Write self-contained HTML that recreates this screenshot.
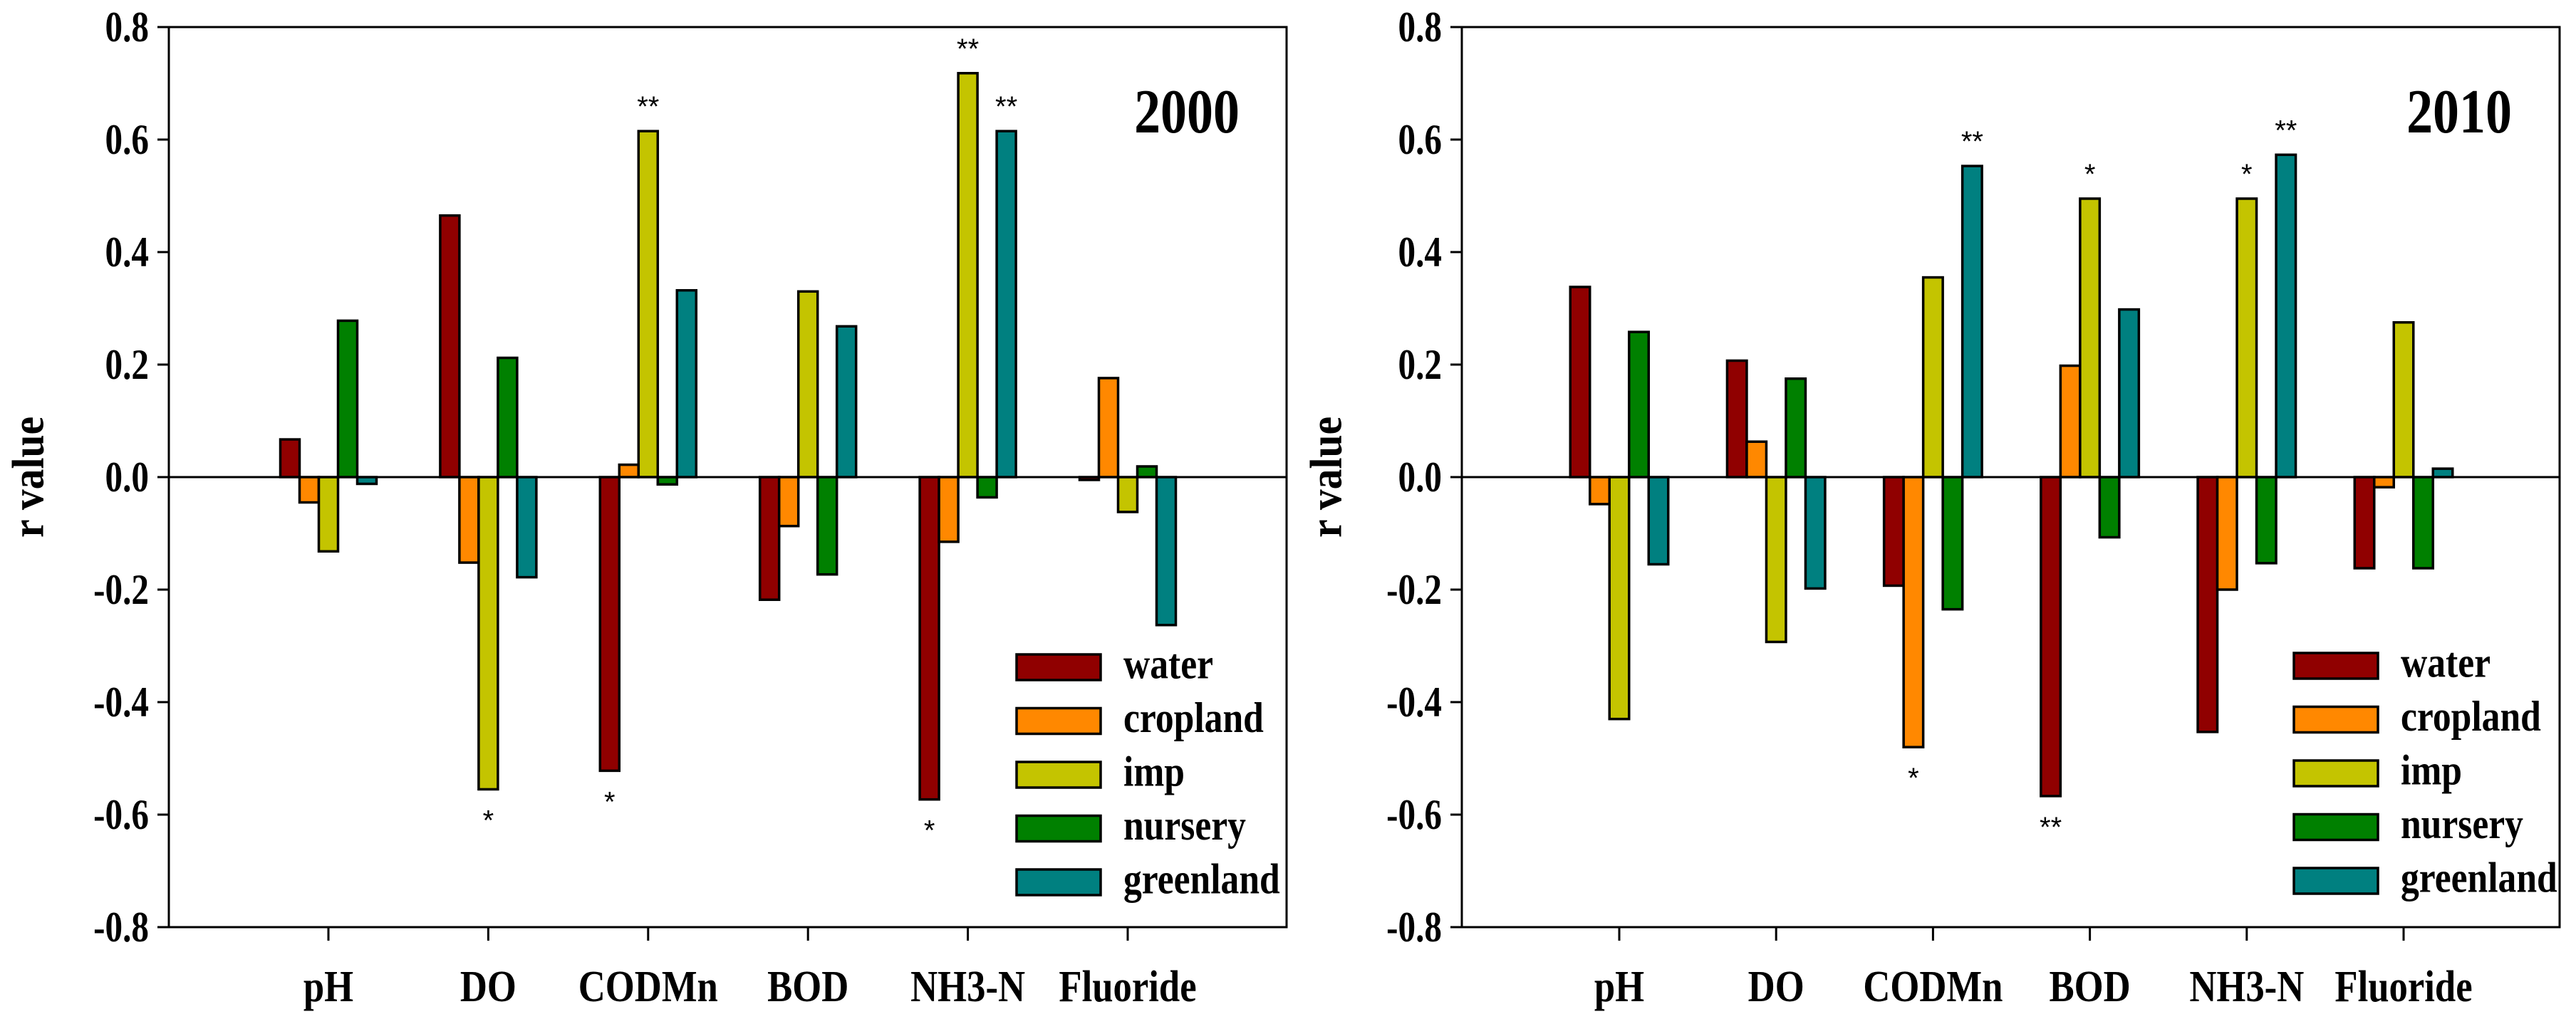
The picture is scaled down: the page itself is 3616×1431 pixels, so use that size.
<!DOCTYPE html>
<html><head><meta charset="utf-8">
<style>
html,body{margin:0;padding:0;background:#fff;}
svg{display:block;}
</style></head>
<body>
<svg id="chart" width="3616" height="1431" viewBox="0 0 3616 1431" xmlns="http://www.w3.org/2000/svg"></svg>
<script>
const categories = ["pH","DO","CODMn","BOD","NH3-N","Fluoride"];
const seriesNames = ["water","cropland","imp","nursery","greenland"];
const seriesColors = ["#900000","#FF8800","#C4C400","#008000","#008080"];
const yTicks = [0.8,0.6,0.4,0.2,0.0,-0.2,-0.4,-0.6,-0.8];
const yTickLabels = ["0.8","0.6","0.4","0.2","0.0","-0.2","-0.4","-0.6","-0.8"];
// values[series][category]
const values2000 = [
  [0.067,0.465,-0.522,-0.218,-0.573,-0.005],
  [-0.045,-0.152,0.022,-0.087,-0.115,0.176],
  [-0.132,-0.555,0.615,0.330,0.718,-0.062],
  [0.278,0.212,-0.013,-0.173,-0.036,0.019],
  [-0.012,-0.178,0.332,0.268,0.615,-0.263]
];
const values2010 = [
  [0.338,0.207,-0.193,-0.567,-0.453,-0.162],
  [-0.048,0.063,-0.480,0.198,-0.200,-0.018],
  [-0.430,-0.293,0.355,0.495,0.495,0.275],
  [0.258,0.175,-0.235,-0.107,-0.153,-0.162],
  [-0.155,-0.198,0.553,0.298,0.573,0.015]
];
// significance marks: [series, category, label]
const sig2000 = [[2,1,"*"],[0,2,"*"],[0,4,"*"],[2,2,"**"],[2,4,"**"],[4,4,"**"]];
const sig2010 = [[1,2,"*"],[0,3,"**"],[4,2,"**"],[2,3,"*"],[2,4,"*"],[4,4,"**"]];

const NS="http://www.w3.org/2000/svg";
const svg=document.getElementById('chart');
const SERIF='"Liberation Serif", "Times New Roman", serif';
const SANS='"Liberation Sans", Arial, sans-serif';
function mk(tag,attrs,parent){const e=document.createElementNS(NS,tag);for(const k in attrs)e.setAttribute(k,attrs[k]);(parent||svg).appendChild(e);return e;}
function txt(str,x,y,size,anchor,sx,parent,fam,weight){
  const t=mk('text',{transform:`translate(${x},${y}) scale(${sx},1)`,'font-size':size,'text-anchor':anchor,'dominant-baseline':'central','font-family':fam||SERIF,'font-weight':weight||'bold',fill:'#000'},parent);
  t.style.fontFamily=fam||SERIF;
  t.textContent=str;return t;
}

function panel(cfg){
  const g=mk('g',{});
  
  
  const top=38,bot=1302,ymax=0.8,ymin=-0.8;
  const y=v=>top+(ymax-v)/(ymax-ymin)*(bot-top);
  const x=i=>cfg.c0+i*cfg.step;
  const fr=mk('rect',{x:cfg.L,y:top,width:cfg.R-cfg.L,height:bot-top,fill:'none',stroke:'#000','stroke-width':3},g);
  
  
  yTicks.forEach((v,i)=>{
    const tk=mk('line',{x1:cfg.L-16,x2:cfg.L,y1:y(v),y2:y(v),stroke:'#000','stroke-width':3},g);
    
    
    const lb=txt(yTickLabels[i],cfg.L-28,y(v),60,'end',0.82,g);
    
    
  });
  const yt=mk('text',{transform:`translate(${cfg.titleX},${y(0)}) rotate(-90) scale(0.9,1)`,'font-size':64,'text-anchor':'middle','dominant-baseline':'central','font-family':SERIF,'font-weight':'bold',fill:'#000'},g);
  yt.style.fontFamily=SERIF;
  yt.textContent='r value';
  
  
  const bw=cfg.bw;
  cfg.values.forEach((ser,s)=>{
    ser.forEach((v,c)=>{
      const bx=x(c)+(s-2.5)*bw;
      const y0=y(0),y1=y(v);
      const r=mk('rect',{x:bx,y:Math.min(y0,y1),width:bw,height:Math.max(1,Math.abs(y1-y0)),fill:seriesColors[s],stroke:'#000','stroke-width':3.5},g);
      
      
    });
  });
  const zl=mk('line',{x1:cfg.L,x2:cfg.R,y1:y(0),y2:y(0),stroke:'#000','stroke-width':3},g);
  
  
  categories.forEach((c,i)=>{
    const tk=mk('line',{x1:x(i),x2:x(i),y1:bot,y2:bot+19,stroke:'#000','stroke-width':3},g);
    
    
    const lb=txt(c,x(i),1386,62,'middle',0.85,g);
    
    
  });
  cfg.sig.forEach(([s,c,l])=>{
    const v=cfg.values[s][c];
    const bx=x(c)+(s-2)*bw;
    const yy=v>=0?y(v)-34:y(v)+44;
    const st=txt(l,bx,yy,40,'middle',1,g,SANS,'normal');
    
    
  });
  const yr=txt(cfg.year,cfg.yearX,157,88,'middle',0.84,g);
  
  
  seriesNames.forEach((n,i)=>{
    const ry=cfg.legY+i*75.5;
    const sw=mk('rect',{x:cfg.legX,y:ry-18,width:118,height:36,fill:seriesColors[i],stroke:'#000','stroke-width':3.5},g);
    
    
    const lt=txt(n,cfg.legX+150,ry-4,60,'start',0.86,g);
    
    
  });
}

panel({name:'panel-2000',L:237,R:1806,c0:461,step:224.4,bw:27,titleX:40,values:values2000,sig:sig2000,year:'2000',yearX:1666,legX:1427,legY:937});
panel({name:'panel-2010',L:2052,R:3593,c0:2273,step:220.2,bw:27.5,titleX:1862,values:values2010,sig:sig2010,year:'2010',yearX:3452,legX:3220,legY:935});
</script>
</body></html>
